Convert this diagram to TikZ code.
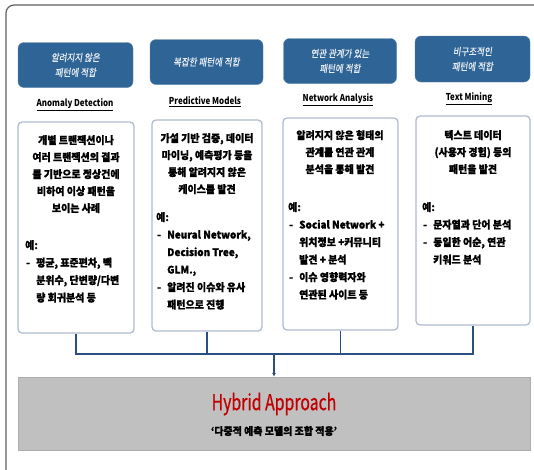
\documentclass[tikz,border=0pt]{standalone}
\usepackage{fontspec}
\setmainfont{Noto Sans CJK KR}[BoldFeatures={FakeBold=1.1}]
\newfontfamily\bluefont[FakeSlant=0.15,FakeStretch=0.85,FakeBold=0.6]{Noto Sans CJK KR}
\newfontfamily\narrowfont[FakeStretch=0.84]{Noto Sans CJK KR}
\newfontfamily\hyfont[FakeStretch=0.72,FakeBold=0.6]{Noto Sans CJK KR}
\newfontfamily\bodyfont[FakeStretch=0.95]{Noto Sans CJK KR}[BoldFeatures={FakeBold=1.1}]
\usetikzlibrary{arrows.meta}
\definecolor{boxblue}{HTML}{2F6496}
\definecolor{bluetext}{HTML}{E8ECF4}
\definecolor{wborder}{HTML}{B0BCD0}
\definecolor{connc}{HTML}{2B4F84}
\definecolor{grayfill}{HTML}{C0C0C0}
\definecolor{hyred}{HTML}{C00000}
\definecolor{framec}{HTML}{606060}
\newcommand{\itm}[1]{\hspace*{1pt}\makebox[10pt][l]{-}#1}
\newcommand{\cnt}[1]{\hspace*{11pt}#1}
\begin{document}
\begin{tikzpicture}[x=1pt,y=-1pt,
  bluebox/.style={fill=boxblue, draw=boxblue!80!white, rounded corners=6pt, inner sep=0pt},
  bluetxt/.style={text=bluetext, font=\bluefont\fontsize{10}{15}\selectfont, align=center, inner sep=0pt},
  label/.style={font=\narrowfont\bfseries\fontsize{9.5}{11}\selectfont, inner sep=0pt},
  wbox/.style={draw=wborder, line width=1.3pt, fill=white, rounded corners=4pt, inner sep=0pt},
  toptxt/.style={font=\bodyfont\bfseries\fontsize{10.5}{17}\selectfont, align=center, inner sep=0pt, anchor=north},
  extxt/.style={font=\bodyfont\bfseries\fontsize{10.5}{17.5}\selectfont, align=left, inner sep=0pt, anchor=north west},
  conn/.style={draw=connc, line width=1.4pt},
  graybox/.style={fill=grayfill, draw=grayfill!90!black, line width=0.4pt, inner sep=0pt}]
\useasboundingbox (0,0) rectangle (534,469);
\begin{scope}
\clip (0,0) rectangle (534,469);
\draw[framec, line width=1.2pt, rounded corners=8pt] (6,5) rectangle (570,500);
\end{scope}
% header boxes
\node[bluebox, minimum width=115pt, minimum height=45pt] (h1) at (75.5,65) {};
\node[bluetxt] (h1t) at (h1.center) {알려지지 않은\\패턴에 적합};
\node[bluebox, minimum width=113pt, minimum height=45pt] (h2) at (206.5,62) {};
\node[bluetxt] (h2t) at (h2.center) {복잡한 패턴에 적합};
\node[bluebox, minimum width=113pt, minimum height=45pt] (h3) at (340,61) {};
\node[bluetxt] (h3t) at (h3.center) {연관 관계가 있는\\패턴에 적합};
\node[bluebox, minimum width=115pt, minimum height=46pt] (h4) at (472.5,59) {};
\node[bluetxt] (h4t) at (h4.center) {비구조적인\\패턴에 적합};
% labels
\node[label] (l1) at (75,105) {\underline{Anomaly Detection}};
\node[label] (l2) at (205,102) {\underline{Predictive Models}};
\node[label] (l3) at (338,100) {\underline{Network Analysis}};
\node[label] (l4) at (469,99) {\underline{Text Mining}};
% white boxes
\node[wbox, minimum width=116pt, minimum height=211pt] (w1) at (76,227.5) {};
\node[wbox, minimum width=110pt, minimum height=211pt] (w2) at (207,225.5) {};
\node[wbox, minimum width=115pt, minimum height=212pt] (w3) at (340.5,224) {};
\node[wbox, minimum width=114pt, minimum height=209pt] (w4) at (473,220.5) {};
% box texts
\node[toptxt] (t1) at (76,135) {개별 트랜잭션이나\\여러 트랜잭션의 결과\\를 기반으로 정상건에\\비하여 이상 패턴을\\보이는 사례};
\node[extxt] (e1) at (25,240) {예:\\\itm{평균, 표준편차, 백}\\\cnt{분위수, 단변량/다변}\\\cnt{량 회귀분석 등}};
\node[toptxt] (t2) at (207,133) {가설 기반 검증, 데이터\\마이닝, 예측평가 등을\\통해 알려지지 않은\\케이스를 발견};
\node[extxt] (e2) at (156,212) {예:\\\itm{Neural Network,}\\\cnt{Decision Tree,}\\\cnt{GLM.,}\\\itm{알려진 이슈와 유사}\\\cnt{패턴으로 진행}};
\node[toptxt] (t3) at (340,130) {알려지지 않은 형태의\\관계를 연관 관계\\분석을 통해 발견};
\node[extxt] (e3) at (288,202) {예:\\\itm{Social Network +}\\\cnt{위치정보 +커뮤니티}\\\cnt{발견 + 분석}\\\itm{이슈 영향력자와}\\\cnt{연관된 사이트 등}};
\node[toptxt] (t4) at (473,130) {텍스트 데이터\\(사용자 경험) 등의\\패턴을 발견};
\node[extxt] (e4) at (422,202) {예:\\\itm{문자열과 단어 분석}\\\itm{동일한 어순, 연관}\\\cnt{키워드 분석}};
% bottom box
\node[graybox, minimum width=512pt, minimum height=73pt] (hy) at (274,413.5) {};
\node[font=\hyfont\fontsize{22}{24}\selectfont, text=hyred, inner sep=0pt] (hyt) at (274,404) {Hybrid Approach};
\node[font=\bodyfont\bfseries\fontsize{10.5}{12}\selectfont, inner sep=0pt] (hys) at (274,431) {‘다중적 예측 모델의 조합 적용’};
% connectors
\coordinate (bus) at (274,354);
\draw[conn] (w1.south) |- (bus);
\draw[conn] (w4.south) |- (bus);
\draw[conn] (w2.south) -- (w2.south |- bus);
\draw[conn] (w3.south) -- (w3.south |- bus);
\draw[conn, line width=1.2pt, -{Latex[length=4pt,width=4pt]}] (bus) -- (hy.north);
\end{tikzpicture}
\end{document}
